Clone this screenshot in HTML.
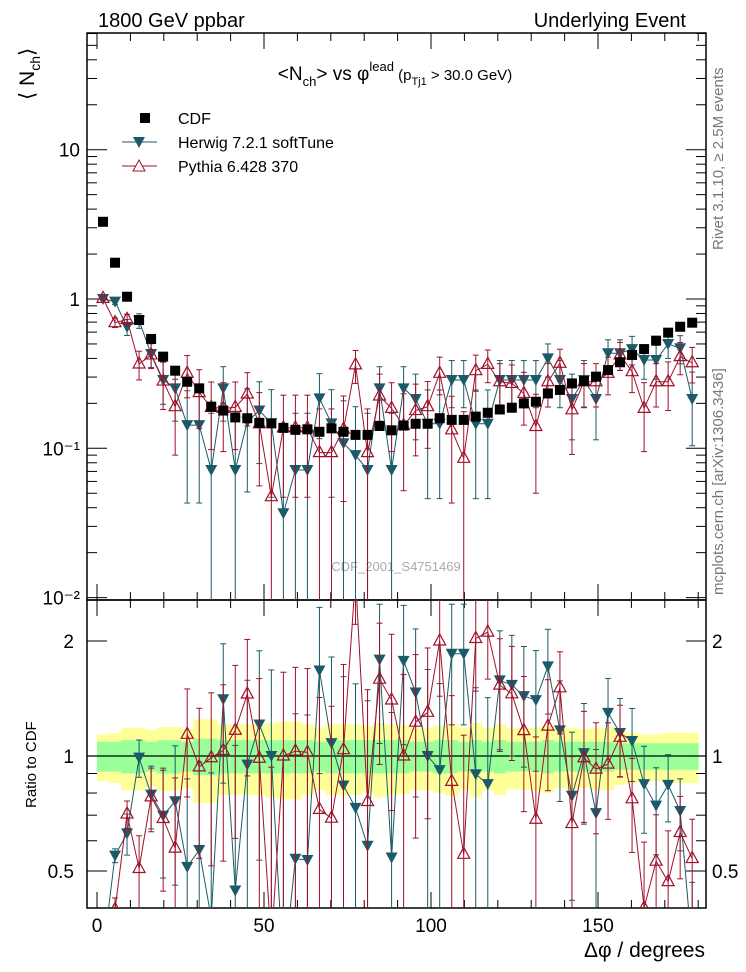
<!DOCTYPE html>
<html><head><meta charset="utf-8"><style>
html,body{margin:0;padding:0;background:#fff;overflow:hidden;width:746px;height:972px}
svg{display:block;font-family:"Liberation Sans","DejaVu Sans",sans-serif}
</style></head><body>
<svg id="c" width="746" height="972" viewBox="0 0 746 972">
<defs>
<clipPath id="cm"><rect x="87" y="33" width="619" height="567"/></clipPath>
<clipPath id="cr"><rect x="87" y="600" width="619" height="308"/></clipPath>
</defs>
<text x="98" y="27" font-size="20">1800 GeV ppbar</text>
<text x="686" y="27" font-size="20" text-anchor="end">Underlying Event</text>
<text transform="translate(34,100) rotate(-90)" font-size="21">⟨ N<tspan font-size="14" dy="6">ch</tspan><tspan dy="-6">⟩</tspan></text>
<text x="395" y="80" font-size="19" text-anchor="middle">&lt;N<tspan font-size="13" dy="6">ch</tspan><tspan dy="-6">&gt; vs φ</tspan><tspan font-size="13" dy="-9">lead</tspan><tspan font-size="15" dy="9"> (p</tspan><tspan font-size="11" dy="5">Tj1</tspan><tspan font-size="15" dy="-5"> &gt; 30.0 GeV)</tspan></text>
<text transform="translate(723,250) rotate(-90)" font-size="15" fill="#777">Rivet 3.1.10, ≥ 2.5M events</text>
<text transform="translate(723,595) rotate(-90)" font-size="15" fill="#777">mcplots.cern.ch [arXiv:1306.3436]</text>
<text x="396" y="571" font-size="13" fill="#aaa" text-anchor="middle">CDF_2001_S4751469</text>
<text transform="translate(36,808) rotate(-90)" font-size="15">Ratio to CDF</text>
<text x="705" y="957" font-size="21" text-anchor="end">Δφ / degrees</text>
<g>
<rect x="140" y="113" width="10" height="10" fill="#000"/>
<text x="178" y="124" font-size="16">CDF</text>
<line x1="122" y1="142" x2="157" y2="142" stroke="#1b5a68"/>
<path d="M133,137 L145,137 L139,148 Z" fill="#1b5a68"/>
<text x="178" y="148" font-size="16">Herwig 7.2.1 softTune</text>
<line x1="122" y1="166" x2="157" y2="166" stroke="#a0102a"/>
<path d="M139,160 L145,171 L133,171 Z" fill="#fff" stroke="#a0102a"/>
<text x="178" y="172" font-size="16">Pythia 6.428 370</text>
</g>
<g id="band" clip-path="url(#cr)"></g>
<g id="axes"></g>
<g id="mainMarks" clip-path="url(#cm)"></g>
<g id="ratioMarks" clip-path="url(#cr)"></g>
</svg>
<script>
const cdfValues=[3.29,1.75,1.036,0.723,0.54,0.411,0.331,0.279,0.252,0.19,0.179,0.161,0.159,0.148,0.147,0.137,0.133,0.134,0.129,0.136,0.129,0.123,0.123,0.141,0.132,0.142,0.146,0.146,0.159,0.155,0.155,0.163,0.173,0.182,0.187,0.2,0.205,0.233,0.246,0.272,0.282,0.302,0.334,0.377,0.422,0.462,0.526,0.595,0.652,0.694];
const herwigValues=[1.0,0.96,0.65,0.716,0.428,0.287,0.252,0.143,0.143,0.0716,0.252,0.0716,0.151,0.179,0.147,0.0367,0.0716,0.0716,0.216,0.147,0.108,0.09,0.0716,0.252,0.0716,0.252,0.214,0.146,0.146,0.287,0.287,0.146,0.146,0.287,0.287,0.287,0.287,0.4,0.287,0.214,0.287,0.214,0.433,0.433,0.462,0.39,0.39,0.5,0.468,0.214];
const pythiaValues=[1.01,0.694,0.73,0.367,0.422,0.282,0.19,0.318,0.236,0.188,0.185,0.188,0.231,0.146,0.0474,0.137,0.137,0.137,0.0935,0.0935,0.134,0.362,0.0935,0.224,0.185,0.142,0.179,0.19,0.318,0.133,0.0857,0.331,0.365,0.279,0.272,0.233,0.14,0.279,0.371,0.181,0.279,0.279,0.318,0.422,0.326,0.185,0.279,0.279,0.411,0.374];
const herwigErr=[0.02,0.04,0.08,0.08,0.08,0.09,0.1,0.1,0.1,0.1,0.1,0.1,0.1,0.1,0.1,0.1,0.1,0.1,0.1,0.1,0.1,0.1,0.1,0.1,0.1,0.1,0.1,0.1,0.1,0.1,0.1,0.1,0.1,0.1,0.1,0.1,0.1,0.1,0.1,0.1,0.1,0.1,0.1,0.1,0.1,0.1,0.1,0.1,0.1,0.11];
const pythiaErr=[0.02,0.05,0.06,0.08,0.08,0.1,0.1,0.1,0.1,0.09,0.09,0.09,0.09,0.09,0.09,0.09,0.09,0.09,0.09,0.09,0.09,0.09,0.09,0.09,0.09,0.09,0.09,0.09,0.09,0.09,0.09,0.09,0.09,0.09,0.09,0.09,0.09,0.09,0.09,0.09,0.09,0.09,0.09,0.09,0.09,0.09,0.09,0.1,0.1,0.1];
const yellowErr=[0.14,0.15,0.186,0.186,0.17,0.19,0.19,0.175,0.247,0.247,0.21,0.21,0.21,0.21,0.22,0.23,0.23,0.21,0.186,0.21,0.21,0.21,0.2,0.22,0.21,0.205,0.186,0.186,0.2,0.215,0.186,0.22,0.186,0.21,0.18,0.186,0.186,0.2,0.175,0.186,0.175,0.186,0.186,0.16,0.15,0.14,0.14,0.15,0.15,0.15];
const greenErr=[0.09,0.09,0.1,0.1,0.09,0.1,0.1,0.09,0.11,0.11,0.1,0.1,0.1,0.1,0.1,0.1,0.1,0.1,0.09,0.1,0.1,0.1,0.1,0.1,0.1,0.1,0.09,0.09,0.1,0.1,0.09,0.1,0.09,0.1,0.09,0.09,0.09,0.1,0.09,0.09,0.09,0.09,0.09,0.08,0.08,0.08,0.08,0.08,0.08,0.08];
const xTickLabels=[0,50,100,150];
const mainTickLabels=["10","1","10\u207B\u00B9","10\u207B\u00B2"];
const mainTickValues=[10,1,0.1,0.01];
const ratioTickValues=[2,1,0.5];
const binWidth=3.6;

const NS="http://www.w3.org/2000/svg";
const L=87,R=706,T=33,MB=600,RB=908;
const X=v=>97+v*3.34;
const Ym=v=>299-149.3*Math.log10(v);
const Yr=v=>756-115*Math.log2(v);
function el(tag,attrs,parent){const e=document.createElementNS(NS,tag);for(const k in attrs)e.setAttribute(k,attrs[k]);parent.appendChild(e);return e;}
const axes=document.getElementById('axes'),band=document.getElementById('band'),mm=document.getElementById('mainMarks'),rm=document.getElementById('ratioMarks');
const HC="#1b5a68",PC="#a0102a";
const centers=cdfValues.map((_,i)=>binWidth*(i+0.5));

cdfValues.forEach((_,i)=>{
  const x0=X(binWidth*i),x1=X(binWidth*(i+1));
  const y=el('rect',{x:x0,y:Yr(1+yellowErr[i]),width:x1-x0+0.5,height:Yr(1-yellowErr[i])-Yr(1+yellowErr[i]),fill:"#ffff99"},band);
  
  
  const g=el('rect',{x:x0,y:Yr(1+greenErr[i]),width:x1-x0+0.5,height:Yr(1-greenErr[i])-Yr(1+greenErr[i]),fill:"#99ff99"},band);
  
  
});
const one=el('line',{x1:L,x2:R,y1:Yr(1),y2:Yr(1),stroke:"#000","stroke-width":1.2},band);



const f1=el('rect',{x:L,y:T,width:R-L,height:MB-T,fill:"none",stroke:"#000","stroke-width":1.5},axes);


const f2=el('rect',{x:L,y:MB,width:R-L,height:RB-MB,fill:"none",stroke:"#000","stroke-width":1.5},axes);


for(let v=0;v<=180;v+=10){
  const len=v%50===0?16:8;
  [[MB,-1],[RB,-1],[MB,1],[T,1]].forEach(([yb,s])=>{el('line',{x1:X(v),x2:X(v),y1:yb,y2:yb+s*len,stroke:"#000"},axes);});
}
xTickLabels.forEach(v=>{const t=el('text',{x:X(v),y:932,"font-size":19,"text-anchor":"middle"},axes);t.textContent=v;

});
for(let d=-2;d<=1;d++){for(let m=1;m<10;m++){const v=m*Math.pow(10,d);const y=Ym(v);if(y<T||y>MB)continue;const len=m===1?20:10;
el('line',{x1:L,x2:L+len,y1:y,y2:y,stroke:"#000"},axes);el('line',{x1:R,x2:R-len,y1:y,y2:y,stroke:"#000"},axes);}}
mainTickValues.forEach((v,i)=>{const t=el('text',{x:80,y:Ym(v)+7,"font-size":19,"text-anchor":"end"},axes);t.textContent=mainTickLabels[i];

});
[0.5,0.6,0.7,0.8,0.9,1,2].forEach(v=>{const y=Yr(v);const len=(v===1||v===2||v===0.5)?20:10;
el('line',{x1:L,x2:L+len,y1:y,y2:y,stroke:"#000"},axes);el('line',{x1:R,x2:R-len,y1:y,y2:y,stroke:"#000"},axes);});
ratioTickValues.forEach(v=>{
  const t=el('text',{x:74,y:Yr(v)+7,"font-size":19,"text-anchor":"end"},axes);t.textContent=v;
  
  
  const t2=el('text',{x:712,y:Yr(v)+7,"font-size":19},axes);t2.textContent=v;
  
  
});

function series(g,vals,errs,Y,color,type,name){
  const pts=vals.map((v,i)=>X(centers[i])+","+Y(Math.max(v,1e-4))).join(" ");
  const pl=el('polyline',{points:pts,fill:"none",stroke:color,"stroke-width":1},g);
  
  
  vals.forEach((v,i)=>{
    const x=X(centers[i]),y=Y(v);
    const lo=Math.min(Y(Math.max(v-errs[i],1e-5)),990),hi=Y(v+errs[i]);
    el('line',{x1:x,x2:x,y1:hi,y2:lo,stroke:color},g);
    el('line',{x1:x-3,x2:x+3,y1:hi,y2:hi,stroke:color},g);
    el('line',{x1:x-3,x2:x+3,y1:lo,y2:lo,stroke:color},g);
    let m;
    if(type==='down') m=el('path',{d:`M${x-6},${y-5} L${x+6},${y-5} L${x},${y+6} Z`,fill:color},g);
    else m=el('path',{d:`M${x},${y-7} L${x+6},${y+4} L${x-6},${y+4} Z`,fill:"#fff","fill-opacity":0,stroke:color,"stroke-width":1.2},g);
    
    
  });
}
series(mm,herwigValues,herwigErr,Ym,HC,'down','herwig');
series(mm,pythiaValues,pythiaErr,Ym,PC,'up','pythia');
cdfValues.forEach((v,i)=>{const s=el('rect',{x:X(centers[i])-5,y:Ym(v)-5,width:10,height:10,fill:"#000"},mm);

});
series(rm,herwigValues.map((v,i)=>v/cdfValues[i]),herwigErr.map((e,i)=>e/cdfValues[i]),Yr,HC,'down','herwig-ratio');
series(rm,pythiaValues.map((v,i)=>v/cdfValues[i]),pythiaErr.map((e,i)=>e/cdfValues[i]),Yr,PC,'up','pythia-ratio');
</script>
</body></html>
